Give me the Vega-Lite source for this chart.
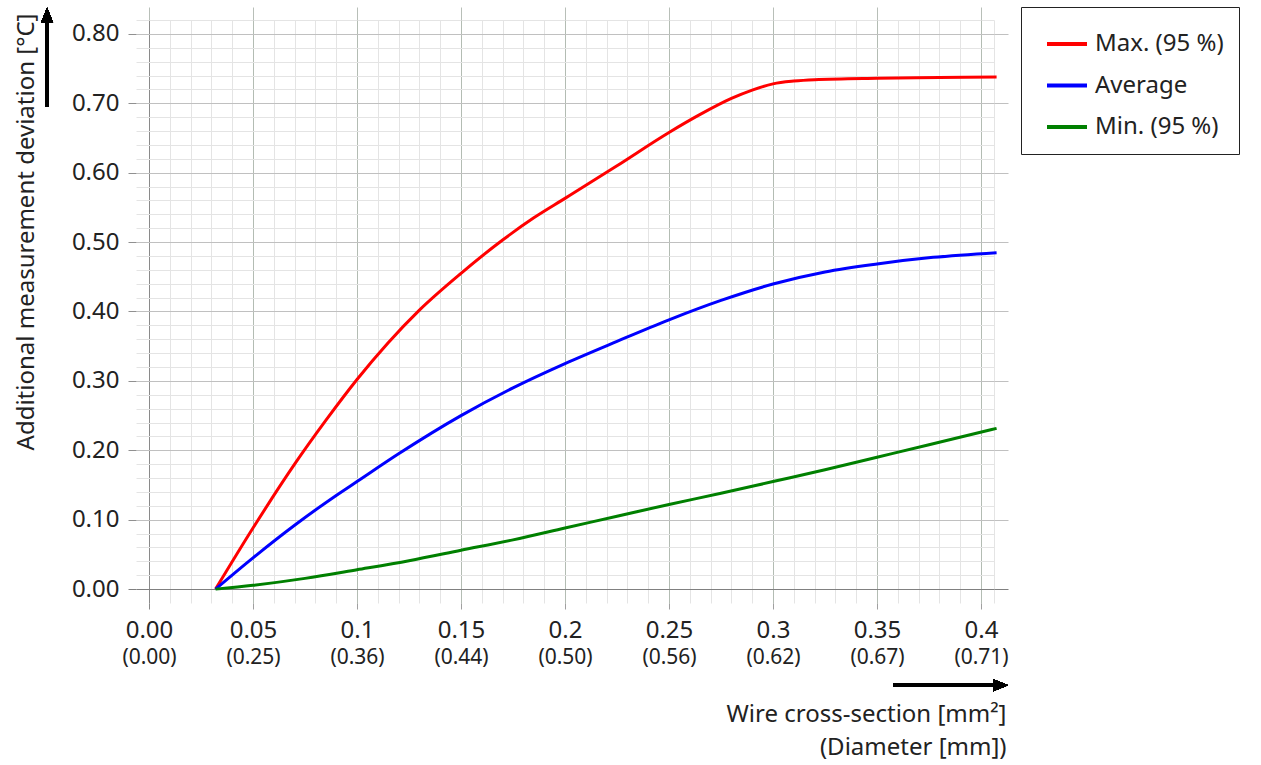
{
  "$schema": "https://vega.github.io/schema/vega-lite/v6.json",
  "width": 858,
  "height": 583,
  "autosize": "none",
  "padding": {"left": 136, "top": 20, "right": 267, "bottom": 162},
  "background": "white",
  "config": {
    "font": "Noto Sans",
    "view": {"stroke": null},
    "axis": {"domain": false, "labelColor": "#222", "titleColor": "#222", "titleFontWeight": "normal", "labelFlush": false, "labelOverlap": false}
  },
  "data": {
    "values": [
      {"series": "Max. (95 %)", "x": 0.032, "y": 0},
      {"series": "Max. (95 %)", "x": 0.05, "y": 0.088},
      {"series": "Max. (95 %)", "x": 0.07, "y": 0.18},
      {"series": "Max. (95 %)", "x": 0.085, "y": 0.243},
      {"series": "Max. (95 %)", "x": 0.1, "y": 0.302},
      {"series": "Max. (95 %)", "x": 0.115, "y": 0.355},
      {"series": "Max. (95 %)", "x": 0.13, "y": 0.402},
      {"series": "Max. (95 %)", "x": 0.15, "y": 0.455},
      {"series": "Max. (95 %)", "x": 0.17, "y": 0.503},
      {"series": "Max. (95 %)", "x": 0.185, "y": 0.535},
      {"series": "Max. (95 %)", "x": 0.2, "y": 0.563},
      {"series": "Max. (95 %)", "x": 0.225, "y": 0.61},
      {"series": "Max. (95 %)", "x": 0.25, "y": 0.658},
      {"series": "Max. (95 %)", "x": 0.265, "y": 0.684},
      {"series": "Max. (95 %)", "x": 0.28, "y": 0.707},
      {"series": "Max. (95 %)", "x": 0.29, "y": 0.719},
      {"series": "Max. (95 %)", "x": 0.3, "y": 0.728},
      {"series": "Max. (95 %)", "x": 0.31, "y": 0.732},
      {"series": "Max. (95 %)", "x": 0.32, "y": 0.734},
      {"series": "Max. (95 %)", "x": 0.35, "y": 0.736},
      {"series": "Max. (95 %)", "x": 0.38, "y": 0.737},
      {"series": "Max. (95 %)", "x": 0.4075, "y": 0.738},
      {"series": "Average", "x": 0.032, "y": 0},
      {"series": "Average", "x": 0.05, "y": 0.045},
      {"series": "Average", "x": 0.07, "y": 0.092},
      {"series": "Average", "x": 0.09, "y": 0.135},
      {"series": "Average", "x": 0.1, "y": 0.155},
      {"series": "Average", "x": 0.12, "y": 0.195},
      {"series": "Average", "x": 0.15, "y": 0.25},
      {"series": "Average", "x": 0.175, "y": 0.29},
      {"series": "Average", "x": 0.2, "y": 0.325},
      {"series": "Average", "x": 0.225, "y": 0.357},
      {"series": "Average", "x": 0.25, "y": 0.388},
      {"series": "Average", "x": 0.275, "y": 0.416},
      {"series": "Average", "x": 0.3, "y": 0.4396},
      {"series": "Average", "x": 0.325, "y": 0.457},
      {"series": "Average", "x": 0.35, "y": 0.4685},
      {"series": "Average", "x": 0.377, "y": 0.478},
      {"series": "Average", "x": 0.4075, "y": 0.4848},
      {"series": "Min. (95 %)", "x": 0.032, "y": 0},
      {"series": "Min. (95 %)", "x": 0.05, "y": 0.0055},
      {"series": "Min. (95 %)", "x": 0.075, "y": 0.0155},
      {"series": "Min. (95 %)", "x": 0.1, "y": 0.028},
      {"series": "Min. (95 %)", "x": 0.125, "y": 0.041},
      {"series": "Min. (95 %)", "x": 0.15, "y": 0.056},
      {"series": "Min. (95 %)", "x": 0.175, "y": 0.071},
      {"series": "Min. (95 %)", "x": 0.2, "y": 0.088},
      {"series": "Min. (95 %)", "x": 0.225, "y": 0.105},
      {"series": "Min. (95 %)", "x": 0.25, "y": 0.122},
      {"series": "Min. (95 %)", "x": 0.275, "y": 0.138},
      {"series": "Min. (95 %)", "x": 0.3, "y": 0.155},
      {"series": "Min. (95 %)", "x": 0.325, "y": 0.172},
      {"series": "Min. (95 %)", "x": 0.35, "y": 0.19},
      {"series": "Min. (95 %)", "x": 0.375, "y": 0.208},
      {"series": "Min. (95 %)", "x": 0.4075, "y": 0.2316}
    ]
  },
  "resolve": {"axis": {"x": "independent", "y": "independent"}},
  "layer": [
    {
      "mark": {"type": "point", "opacity": 0},
      "encoding": {
        "x": {"field": "x", "type": "quantitative", "scale": {"domain": [-0.00625, 0.40625], "nice": false, "zero": false},
          "axis": {"orient": "bottom", "values": [0,0.01,0.02,0.03,0.04,0.05,0.06,0.07,0.08,0.09,0.1,0.11,0.12,0.13,0.14,0.15,0.16,0.17,0.18,0.19,0.2,0.21,0.22,0.23,0.24,0.25,0.26,0.27,0.28,0.29,0.3,0.31,0.32,0.33,0.34,0.35,0.36,0.37,0.38,0.39,0.4,0.40625],
            "grid": true, "gridColor": "#e4e4e4", "gridWidth": 1, "ticks": false, "labels": false, "title": null}},
        "y": {"field": "y", "type": "quantitative", "scale": {"domain": [-0.02, 0.82], "nice": false, "zero": false},
          "axis": {"orient": "left", "values": [0,0.02,0.04,0.06,0.08,0.1,0.12,0.14,0.16,0.18,0.2,0.22,0.24,0.26,0.28,0.3,0.32,0.34,0.36,0.38,0.4,0.42,0.44,0.46,0.48,0.5,0.52,0.54,0.56,0.58,0.6,0.62,0.64,0.66,0.68,0.7,0.72,0.74,0.76,0.78,0.8,0.82],
            "grid": true, "gridColor": "#e4e4e4", "gridWidth": 1, "ticks": false, "labels": false, "title": null}}
      }
    },
    {
      "mark": {"type": "point", "opacity": 0},
      "encoding": {
        "x": {"field": "x", "type": "quantitative",
          "axis": {"orient": "top", "values": [0,0.05,0.1,0.15,0.2,0.25,0.3,0.35,0.4], "grid": false, "ticks": true, "tickSize": 13, "tickColor": "#b8bfb8", "labels": false, "title": null}},
        "y": {"field": "y", "type": "quantitative",
          "axis": {"orient": "right", "values": [0,0.1,0.2,0.3,0.4,0.5,0.6,0.7,0.8], "grid": false, "ticks": true, "tickSize": 14,
            "tickColor": {"condition": {"test": "datum.value === 0", "value": "#808080"}, "value": "#c0c0c0"}, "labels": false, "title": null}}
      }
    },
    {
      "mark": {"type": "point", "opacity": 0},
      "encoding": {
        "x": {"field": "x", "type": "quantitative",
          "axis": {"orient": "bottom", "values": [0,0.05,0.1,0.15,0.2,0.25,0.3,0.35,0.4], "grid": false, "ticks": false, "tickSize": 0,
            "labelExpr": "['(0.00)','(0.25)','(0.36)','(0.44)','(0.50)','(0.56)','(0.62)','(0.67)','(0.71)'][round(datum.value/0.05)]",
            "labelFontSize": 21, "labelPadding": 43, "title": null}},
        "y": {"field": "y", "type": "quantitative", "axis": null}
      }
    },
    {
      "mark": {"type": "line", "strokeWidth": 3, "interpolate": "monotone"},
      "encoding": {
        "x": {"field": "x", "type": "quantitative",
          "axis": {"orient": "bottom", "values": [0,0.05,0.1,0.15,0.2,0.25,0.3,0.35,0.4], "grid": true,
            "gridColor": {"condition": {"test": "datum.value === 0", "value": "#8a8a8a"}, "value": "#b3bcb3"},
            "ticks": true, "tickSize": 6, "tickColor": {"condition": {"test": "datum.value === 0", "value": "#8a8a8a"}, "value": "#a0a0a0"},
            "labelExpr": "datum.value === 0 ? '0.00' : format(datum.value, '.2~f')",
            "labelFontSize": 24, "labelPadding": 9,
            "title": ["Wire cross-section [mm²]", "(Diameter [mm])"], "titleFontSize": 24, "titleAlign": "right", "titleAnchor": "end",
            "titleX": 870, "titleY": 99, "titleBaseline": "top", "titleLineHeight": 33}},
        "y": {"field": "y", "type": "quantitative",
          "axis": {"orient": "left", "values": [0,0.1,0.2,0.3,0.4,0.5,0.6,0.7,0.8], "grid": true,
            "gridColor": {"condition": {"test": "datum.value === 0", "value": "#808080"}, "value": "#c0c0c0"},
            "ticks": true, "tickSize": 8, "tickColor": {"condition": {"test": "datum.value === 0", "value": "#808080"}, "value": "#909090"},
            "format": ".2f", "labelFontSize": 24, "labelPadding": 9,
            "title": "Additional measurement deviation [°C]", "titleFontSize": 24, "titleAngle": 270, "titleAlign": "right",
            "titleBaseline": "alphabetic", "titleX": -103, "titleY": -7}},
        "color": {"field": "series", "type": "nominal",
          "scale": {"domain": ["Max. (95 %)", "Average", "Min. (95 %)"], "range": ["#ff0000", "#0000ff", "#008000"]},
          "legend": {"orient": "none", "legendX": 885, "legendY": -13, "title": null, "symbolType": "stroke", "symbolSize": 1600,
            "symbolStrokeWidth": 4, "labelFontSize": 24, "labelColor": "#222", "padding": 15, "rowPadding": 7.5,
            "symbolOffset": 9, "labelOffset": 6, "labelExpr": "datum.label + '\u00a0\u00a0\u00a0\u00a0'",
            "strokeColor": "#222", "fillColor": "white", "cornerRadius": 0}}
      }
    },
    {
      "mark": {"type": "rule", "color": "black", "strokeWidth": 3},
      "encoding": {
        "x": {"datum": 0.3577, "type": "quantitative", "axis": null},
        "x2": {"datum": 0.4094},
        "y": {"datum": -0.1384, "type": "quantitative", "axis": null}
      }
    },
    {
      "mark": {"type": "point", "shape": "M1,0L-1,-0.8L-1,0.8Z", "filled": true, "color": "black", "opacity": 1, "size": 225},
      "encoding": {
        "x": {"datum": 0.4094, "type": "quantitative", "axis": null},
        "y": {"datum": -0.1384, "type": "quantitative", "axis": null}
      }
    },
    {
      "mark": {"type": "rule", "color": "black", "strokeWidth": 3},
      "encoding": {
        "x": {"datum": -0.049, "type": "quantitative", "axis": null},
        "y": {"datum": 0.6948, "type": "quantitative", "axis": null},
        "y2": {"datum": 0.8267}
      }
    },
    {
      "mark": {"type": "point", "shape": "M0,-1L0.8,1L-0.8,1Z", "filled": true, "color": "black", "opacity": 1, "size": 225},
      "encoding": {
        "x": {"datum": -0.049, "type": "quantitative", "axis": null},
        "y": {"datum": 0.8267, "type": "quantitative", "axis": null}
      }
    }
  ]
}
